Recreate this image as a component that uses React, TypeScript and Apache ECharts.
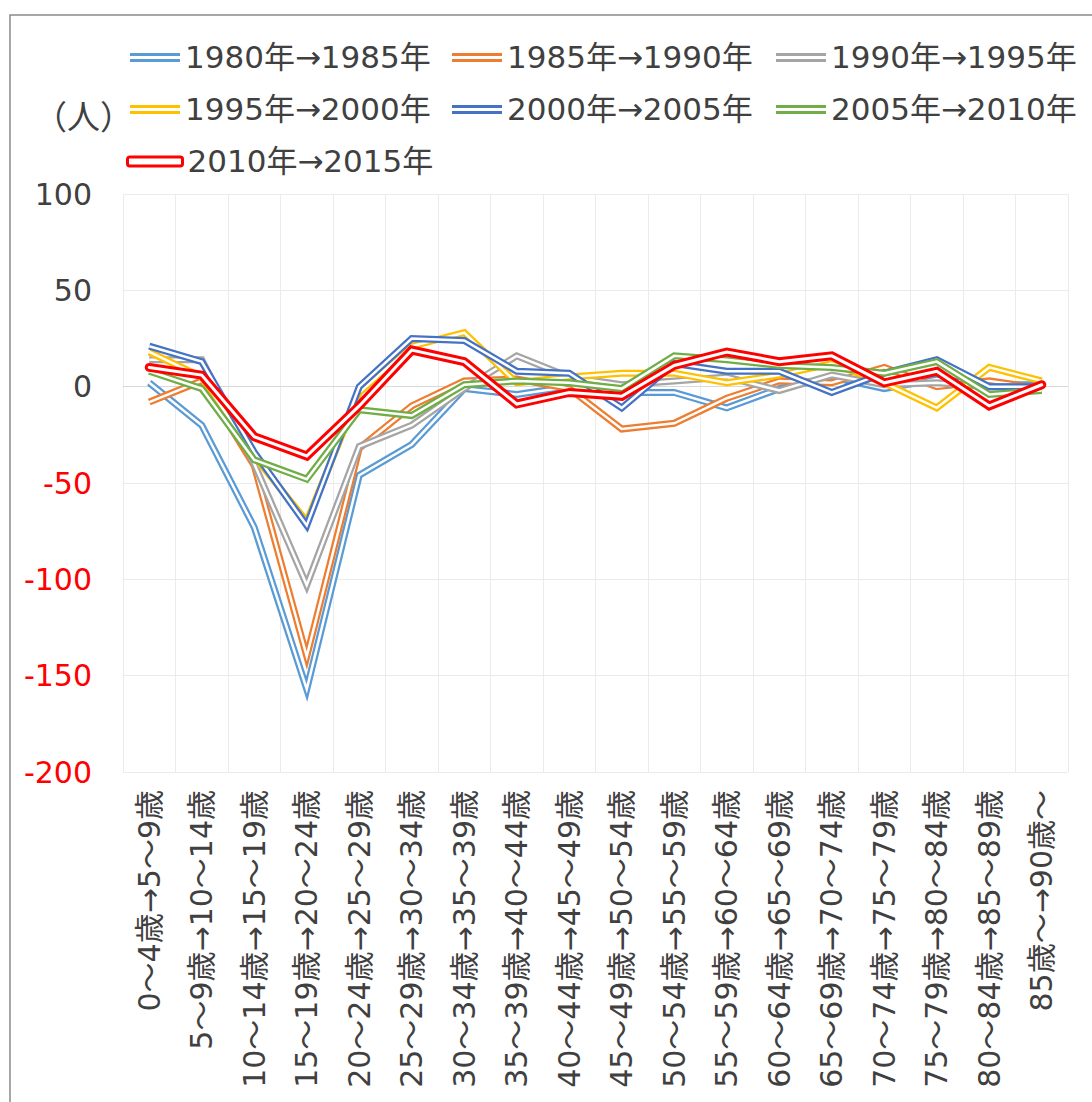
import React, { useEffect, useRef } from "react";
import * as echarts from "echarts";

const categories = [
  "0～4歳→5～9歳",
  "5～9歳→10～14歳",
  "10～14歳→15～19歳",
  "15～19歳→20～24歳",
  "20～24歳→25～29歳",
  "25～29歳→30～34歳",
  "30～34歳→35～39歳",
  "35～39歳→40～44歳",
  "40～44歳→45～49歳",
  "45～49歳→50～54歳",
  "50～54歳→55～59歳",
  "55～59歳→60～64歳",
  "60～64歳→65～69歳",
  "65～69歳→70～74歳",
  "70～74歳→75～79歳",
  "75～79歳→80～84歳",
  "80～84歳→85～89歳",
  "85歳～→90歳～",
];

const seriesNames = [
  "1980年→1985年",
  "1985年→1990年",
  "1990年→1995年",
  "1995年→2000年",
  "2000年→2005年",
  "2005年→2010年",
  "2010年→2015年",
];

const colors = ["#5B9BD5", "#ED7D31", "#A5A5A5", "#FFC000", "#4472C4", "#70AD47", "#FF0000"];

const s1980 = [2, -20, -73, -157, -46, -30, -1, -4, 0, -3, -3, -11, -1, 5, -1, 4, 1, 1];
const s1985 = [-8, 3, -41, -140, -32, -10, 3, 4, -1, -22, -19, -6, 3, 2, 10, 0, 3, -1];
const s1990 = [14, 14, -40, -103, -31, -20, -1, 16, 5, 1, 3, 5, -2, 6, 1, 2, 0, 0];
const s1995 = [18, 5, -36, -70, -3, 21, 28, 2, 5, 7, 7, 2, 6, 12, 2, -11, 10, 3];
const s2000 = [21, 13, -34, -72, 0, 25, 24, 8, 7, -11, 12, 8, 8, -3, 7, 14, 0, 0];
const s2005 = [8, -1, -38, -48, -12, -15, 1, 3, 2, -1, 16, 14, 11, 10, 7, 13, -4, -2];
const s2010 = [10, 6, -26, -36, -10, 19, 13, -9, -3, -5, 11, 18, 13, 16, 2, 8, -10, 1];

const yMin = -200;
const yMax = 100;
const yInterval = 50;

const FONT = "'DejaVu Sans ExtraLight', 'DejaVu Sans', 'Noto Sans CJK JP', sans-serif";
const TEXT_COLOR = "#404040";
const DOUBLE_ICON = "path://M0,0H50V3H0Z M0,6H50V9H0Z";

export default function App() {
  const ref = useRef<HTMLDivElement>(null);

  useEffect(() => {
    document.body.style.margin = "0";
    const chart = echarts.init(ref.current!, null, { renderer: "svg" });
    const dataSets = [s1980, s1985, s1990, s1995, s2000, s2005, s2010];

    const series: any[] = [];
    dataSets.forEach((d, i) => {
      const isRed = i === 6;
      series.push({
        name: seriesNames[i],
        type: "line",
        data: d,
        symbol: "none",
        showSymbol: false,
        color: colors[i],
        itemStyle: { color: colors[i] },
        lineStyle: {
          color: colors[i],
          width: isRed ? 9 : 7,
          cap: isRed ? "round" : "butt",
          join: "miter",
        },
        z: 2,
      });
      series.push({
        name: seriesNames[i] + " ",
        type: "line",
        data: d,
        symbol: "none",
        showSymbol: false,
        silent: true,
        color: "#ffffff",
        lineStyle: {
          color: "#ffffff",
          width: isRed ? 3 : 2.5,
          cap: isRed ? "round" : "butt",
          join: "miter",
        },
        z: 2,
      });
    });

    const legendPos = [
      [130, 42],
      [452, 42],
      [776, 42],
      [130, 94],
      [452, 94],
      [776, 94],
      [126, 146],
    ];

    const legends = seriesNames.map((n, i) => ({
      data: [
        i === 6
          ? {
              name: n,
              icon: "roundRect",
              itemStyle: { color: "#ffffff", borderColor: "#FF0000", borderWidth: 3 },
            }
          : { name: n, icon: DOUBLE_ICON, itemStyle: { color: colors[i] } },
      ],
      left: legendPos[i][0],
      top: legendPos[i][1],
      padding: 0,
      itemWidth: i === 6 ? 55 : 50,
      itemHeight: 9,
      selectedMode: false,
      textStyle: { fontSize: 31, color: TEXT_COLOR, fontFamily: FONT },
    }));

    chart.setOption({
      animation: false,
      backgroundColor: "#ffffff",
      textStyle: { fontFamily: FONT },
      grid: { left: 123, right: 24, top: 194, bottom: 330, containLabel: false },
      legend: legends,
      xAxis: {
        type: "category",
        data: categories,
        boundaryGap: true,
        axisLine: { show: true, lineStyle: { color: "#d9d9d9", width: 1 } },
        axisTick: { show: false },
        splitLine: { show: true, interval: 0, lineStyle: { color: "#ebebeb", width: 1 } },
        axisLabel: {
          interval: 0,
          rotate: 90,
          margin: 18,
          fontSize: 30,
          color: TEXT_COLOR,
          fontFamily: FONT,
        },
      },
      yAxis: {
        type: "value",
        min: yMin,
        max: yMax,
        interval: yInterval,
        axisLine: { show: false },
        axisTick: { show: false },
        splitLine: { show: true, lineStyle: { color: "#ebebeb", width: 1 } },
        axisLabel: {
          margin: 31,
          fontSize: 30,
          fontFamily: FONT,
          color: (v: any) => (Number(v) < 0 ? "#FF0000" : TEXT_COLOR),
        },
      },
      graphic: [
        {
          type: "rect",
          shape: { x: 10, y: 15, width: 1200, height: 1200 },
          style: { fill: "none", stroke: "#8a8a8a", lineWidth: 1.5 },
          silent: true,
        },
        {
          type: "text",
          x: 34,
          y: 117,
          style: {
            text: "（人）",
            fontSize: 33,
            fontFamily: FONT,
            fill: TEXT_COLOR,
            verticalAlign: "middle",
          },
          silent: true,
        },
      ],
      series,
    });

    return () => chart.dispose();
  }, []);

  return (
    <div
      ref={ref}
      style={{ position: "absolute", left: 0, top: 0, width: 1092, height: 1102 }}
    />
  );
}
